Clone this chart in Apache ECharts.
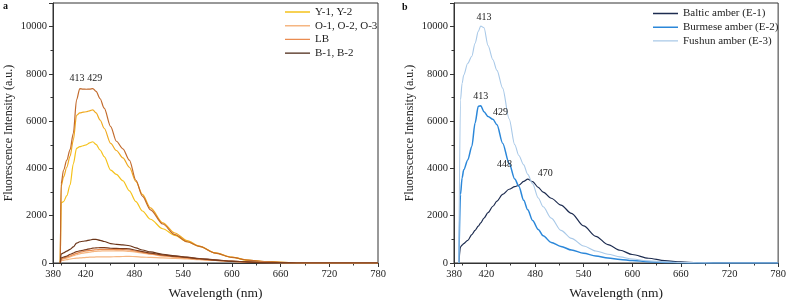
<!DOCTYPE html>
<html>
<head>
<meta charset="utf-8">
<script src="https://cdn.jsdelivr.net/npm/echarts@6/dist/echarts.min.js"></script>
<style>html,body{margin:0;padding:0;background:#fff}#c{width:789px;height:306px}</style>
</head>
<body>
<div id="c"></div>
<script>
// ---------- Panel a: wavelengths (nm) and intensities ----------
const wlA = [389, 390, 393, 397, 401, 405, 409, 413, 417, 421, 425, 429, 433, 438, 443, 451, 458, 466, 474, 482, 490, 500, 515, 530, 545, 560, 580, 600, 620, 640, 660, 680, 700, 780];
const y1 = [0, 2550, 2600, 2850, 3300, 4200, 4850, 4920, 4960, 5000, 5080, 5130, 5020, 4780, 4500, 3930, 3750, 3480, 3050, 2600, 2200, 1850, 1450, 1170, 900, 700, 420, 240, 115, 55, 25, 8, 0, 0];
const y2 = [0, 3250, 3640, 4050, 4520, 5200, 6250, 6350, 6380, 6400, 6440, 6480, 6350, 6050, 5700, 5060, 4760, 4450, 4050, 3450, 2900, 2330, 1700, 1270, 950, 720, 430, 245, 120, 60, 30, 10, 0, 0];
const o1 = [0, 3350, 3930, 4350, 4800, 5490, 6900, 7380, 7360, 7350, 7360, 7380, 7260, 6950, 6550, 5770, 5150, 4830, 4350, 3500, 2830, 2250, 1650, 1200, 900, 700, 420, 240, 120, 60, 30, 10, 0, 0];
const o2 = [0, 150, 170, 210, 260, 310, 350, 390, 420, 440, 460, 480, 495, 505, 515, 515, 510, 510, 495, 460, 420, 370, 300, 250, 200, 155, 105, 65, 35, 18, 8, 0, 0, 0];
const o3 = [0, 100, 115, 140, 170, 190, 205, 215, 225, 235, 245, 250, 255, 258, 260, 262, 268, 275, 280, 270, 250, 235, 215, 195, 170, 140, 105, 70, 40, 25, 10, 0, 0, 0];
const lb = [0, 170, 200, 250, 300, 360, 410, 450, 480, 510, 530, 545, 560, 575, 580, 575, 570, 570, 550, 505, 450, 390, 310, 260, 210, 160, 110, 70, 40, 20, 10, 0, 0, 0];
const b1 = [0, 380, 430, 500, 580, 680, 840, 900, 920, 940, 970, 1000, 1000, 960, 910, 820, 790, 770, 730, 640, 550, 470, 370, 300, 240, 180, 120, 70, 40, 20, 10, 0, 0, 0];
const b2 = [0, 220, 250, 290, 370, 420, 480, 510, 540, 570, 600, 630, 640, 650, 650, 625, 615, 610, 600, 540, 480, 420, 340, 290, 245, 190, 130, 80, 45, 20, 10, 0, 0, 0];
const legendA = ['Y-1, Y-2', 'O-1, O-2, O-3', 'LB', 'B-1, B-2'];
const peakTextA = ['413', '429'];
const peakAtA = [[409.6, 7800], [431.4, 7800]];

// ---------- Panel b ----------
const wlB = [386, 388, 390, 392, 397, 402, 406, 410, 413, 417, 422, 428, 433, 440, 448, 455, 460, 466, 471, 477, 484, 490, 500, 512, 525, 540, 555, 570, 585, 600, 620, 640, 660, 680, 700, 720, 780];
const baltic = [0, 680, 760, 820, 960, 1200, 1380, 1560, 1700, 1900, 2130, 2400, 2620, 2900, 3120, 3230, 3290, 3450, 3550, 3440, 3200, 3000, 2740, 2450, 2100, 1570, 1130, 780, 540, 360, 200, 100, 45, 20, 5, 0, 0];
const burmese = [0, 2900, 3600, 3940, 4360, 4930, 5920, 6630, 6650, 6400, 6200, 6080, 5850, 5070, 4220, 3550, 3250, 2650, 2250, 1800, 1420, 1150, 870, 700, 550, 410, 300, 210, 150, 105, 55, 25, 10, 0, 0, 0, 0];
const fushun = [0, 6900, 7600, 7950, 8450, 8750, 9300, 9800, 10030, 9950, 9200, 8600, 8150, 7400, 6100, 5000, 4550, 4150, 3750, 3350, 2750, 2380, 1900, 1380, 1040, 720, 510, 370, 260, 170, 90, 45, 20, 8, 0, 0, 0];
const legendB = ['Baltic amber (E-1)', 'Burmese amber (E-2)', 'Fushun amber (E-3)'];
const peakTextB = ['413', '413', '429', '448', '470'];
const peakAtB = [[416.9, 10380], [412.9, 7050], [437.5, 6370], [442.4, 4180], [492.5, 3800]];

// ---------- Axis ticks ----------
const xMajorTicks = [380, 420, 480, 540, 600, 660, 720, 780];
const xMinorTicks = [390, 450, 510, 570, 630, 690, 750];
const yTicks = {min: 0, max: 11000, interval: 2000};

const FONT = 'Liberation Serif';
const pairs = (xs, ys) => xs.map((x, i) => [x, ys[i]]);
const xMin = xMajorTicks[0], xMax = xMajorTicks[xMajorTicks.length - 1];

function xAxisDef(gi) {
  return {
    type: 'value', gridIndex: gi, min: xMin, max: xMax,
    name: 'Wavelength (nm)', nameLocation: 'middle', nameGap: 23,
    nameTextStyle: {fontFamily: FONT, fontSize: 13.5, color: '#222'},
    axisLine: {lineStyle: {color: '#333', width: 1}},
    axisTick: {show: true, inside: false, length: 4, customValues: xMajorTicks, lineStyle: {color: '#333'}},
    minorTick: {show: false},
    axisLabel: {fontFamily: FONT, fontSize: 10.5, color: '#222', margin: 6, customValues: xMajorTicks},
    splitLine: {show: false}
  };
}
function xMinorDef(gi) {
  return {
    type: 'value', gridIndex: gi, min: xMin, max: xMax, position: 'bottom',
    axisLine: {show: false},
    axisTick: {show: true, inside: false, length: 2.5, customValues: xMinorTicks, lineStyle: {color: '#333'}},
    axisLabel: {show: false, customValues: xMinorTicks},
    splitLine: {show: false}
  };
}
function yAxisDef(gi) {
  return {
    type: 'value', gridIndex: gi, min: yTicks.min, max: yTicks.max, interval: yTicks.interval,
    name: 'Fluorescence Intensity (a.u.)', nameLocation: 'middle', nameGap: 38,
    nameTextStyle: {fontFamily: FONT, fontSize: 12, color: '#222'},
    axisLine: {lineStyle: {color: '#333', width: 1}},
    axisTick: {show: true, inside: false, length: 4, lineStyle: {color: '#333'}},
    minorTick: {show: true, splitNumber: 2, length: 2.5, lineStyle: {color: '#333'}},
    axisLabel: {fontFamily: FONT, fontSize: 10.5, color: '#222', margin: 6, showMaxLabel: false,
      formatter: v => String(v)},
    splitLine: {show: false}
  };
}
function line(name, xs, ys, color, width, gi, extra) {
  return Object.assign({
    type: 'line', name: name, data: pairs(xs, ys), xAxisIndex: gi, yAxisIndex: gi,
    symbol: 'none', smooth: 0.3, smoothMonotone: 'x',
    lineStyle: {color: color, width: width}, itemStyle: {color: color}, z: 3
  }, extra || {});
}
function peaks(texts, coords) {
  return {
    symbol: 'circle', symbolSize: 0, silent: true,
    label: {show: true, position: 'inside', formatter: '{b}', fontFamily: FONT, fontSize: 10, color: '#222'},
    data: texts.map((t, i) => ({name: t, coord: coords[i]}))
  };
}

const cA = {y: '#f5c21b', y2: '#f0a91e', o1: '#c26a2c', o: '#f5b682', lb: '#ea8c50', b1: '#6a3418', b2: '#7d3d1d'};
const series = [
  line(legendA[0], wlA, y1, cA.y, 1.2, 0),
  line(legendA[0], wlA, y2, cA.y2, 1.2, 0),
  line(legendA[1], wlA, o1, cA.o1, 1.2, 0, {markPoint: peaks(peakTextA, peakAtA)}),
  line(legendA[1], wlA, o2, cA.o, 1.2, 0),
  line(legendA[1], wlA, o3, cA.o, 1.2, 0),
  line(legendA[2], wlA, lb, cA.lb, 1.2, 0),
  line(legendA[3], wlA, b1, cA.b1, 1.2, 0),
  line(legendA[3], wlA, b2, cA.b2, 1.2, 0),
  line(legendB[0], wlB, baltic, '#1d2c50', 1.2, 1, {markPoint: peaks(peakTextB, peakAtB)}),
  line(legendB[1], wlB, burmese, '#2b87d9', 1.5, 1),
  line(legendB[2], wlB, fushun, '#a9c9e8', 1.1, 1)
];

// a line-shaped legend icon (invisible corner points keep the box 25x12)
const lineIcon = 'path://M0,0L0,0ZM0,5.3L25,5.3L25,6.7L0,6.7ZM25,12L25,12Z';
const legendStyle = {
  orient: 'vertical', itemWidth: 25, itemHeight: 12, itemGap: 1.7, icon: lineIcon, padding: 0,
  textStyle: {fontFamily: FONT, fontSize: 11, color: '#222'}, selectedMode: false
};
const lgA = [cA.y, cA.o, cA.lb, '#4a2614'];
const lgB = ['#1d2c50', '#2b87d9', '#a9c9e8'];

const option = {
  animation: false,
  backgroundColor: '#fff',
  grid: [
    {left: 53, top: 3, width: 325, height: 260, show: true, borderColor: '#333', borderWidth: 1, backgroundColor: 'transparent'},
    {left: 454, top: 3, width: 325, height: 260, show: true, borderColor: '#333', borderWidth: 1, backgroundColor: 'transparent'}
  ],
  xAxis: [xAxisDef(0), xAxisDef(1), xMinorDef(0), xMinorDef(1)],
  yAxis: [yAxisDef(0), yAxisDef(1)],
  legend: [
    Object.assign({left: 285, top: 6, data: legendA.map((n, i) => ({name: n, icon: lineIcon, itemStyle: {color: lgA[i]}}))}, legendStyle),
    Object.assign({left: 653, top: 7.5, data: legendB.map((n, i) => ({name: n, icon: lineIcon, itemStyle: {color: lgB[i]}}))}, legendStyle)
  ],
  graphic: [
    {type: 'text', left: 3, top: 1, style: {text: 'a', font: 'bold 10px "Liberation Serif"', fill: '#111'}},
    {type: 'text', left: 402, top: 2, style: {text: 'b', font: 'bold 10px "Liberation Serif"', fill: '#111'}}
  ],
  series: series
};
const chart = echarts.init(document.getElementById('c'), null, {renderer: 'canvas'});
chart.setOption(option);
</script>
</body>
</html>
